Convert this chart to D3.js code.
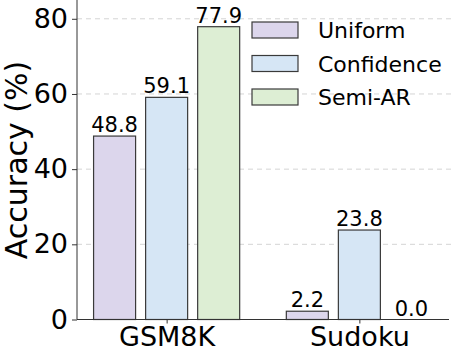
<!DOCTYPE html>
<html>
<head>
<meta charset="utf-8">
<script src="https://cdn.jsdelivr.net/npm/d3@7"></script>
<style>
  body { margin: 0; background: #fff; }
  svg { display: block; font-family: "DejaVu Sans", sans-serif; }
</style>
</head>
<body>
<div id="chart"></div>
<script>
// categories and series
var tasks = ["GSM8K", "Sudoku"];
var methods = ["Uniform", "Confidence", "Semi-AR"];
var uniform = [48.8, 2.2];
var confidence = [59.1, 23.8];
var semiAR = [77.9, 0.0];
var yTicks = [0, 20, 40, 60, 80];

var colors = ["#dcd6ec", "#d6e6f5", "#ddeed4"];
var series = [uniform, confidence, semiAR];

var W = 451, H = 348;
var margin = {top: 0, right: 2, bottom: 28.5, left: 77};

var svg = d3.select("#chart")
  .append("svg")
    .attr("width", W)
    .attr("height", H);

// x is linear in group index, bars offset around each group centre
var x = d3.scaleLinear()
  .domain([-0.465, 1.465])
  .range([margin.left, W - margin.right]);
var y = d3.scaleLinear()
  .domain([0, 85])
  .range([H - margin.bottom, margin.top]);

var step = 0.27, barW = 0.218;

// dashed grid
svg.append("g")
  .selectAll("line")
  .data(yTicks.filter(function(d) { return d > 0; }))
  .enter()
  .append("line")
    .attr("x1", margin.left)
    .attr("x2", W)
    .attr("y1", function(d) { return y(d); })
    .attr("y2", function(d) { return y(d); })
    .attr("stroke", "#d4d4d4")
    .attr("stroke-width", 1)
    .attr("stroke-dasharray", "5,4");

// bars
series.forEach(function(vals, si) {
  var off = (si - 1) * step;
  var g = svg.append("g");
  g.selectAll("rect")
    .data(vals)
    .enter()
    .append("rect")
      .attr("x", function(d, i) { return x(i + off - barW / 2); })
      .attr("width", x(barW) - x(0))
      .attr("y", function(d) { return y(d); })
      .attr("height", function(d) { return y(0) - y(d); })
      .attr("fill", colors[si])
      .attr("stroke", "#3a3a3a")
      .attr("stroke-width", 1.2);
  g.selectAll("text")
    .data(vals)
    .enter()
    .append("text")
      .attr("x", function(d, i) { return x(i + off); })
      .attr("y", function(d) { return y(d) - 4; })
      .attr("text-anchor", "middle")
      .attr("font-size", 21)
      .attr("fill", "#000")
      .text(function(d) { return d.toFixed(1); });
});

// y axis
var yAxis = svg.append("g")
  .attr("transform", "translate(" + margin.left + ",0)")
  .call(d3.axisLeft(y).tickValues(yTicks).tickSize(5).tickPadding(4));
yAxis.select(".domain").attr("stroke", "#333").attr("d", "M0," + y(0) + "V0");
yAxis.selectAll(".tick line").attr("stroke", "#333");
yAxis.selectAll("text").attr("font-size", 27).attr("fill", "#000")
  .attr("font-family", "DejaVu Sans");

// x axis
var xAxis = svg.append("g")
  .attr("transform", "translate(0," + y(0) + ")")
  .call(d3.axisBottom(x).tickValues([0, 1])
    .tickFormat(function(d) { return tasks[d]; })
    .tickSize(4).tickPadding(3));
xAxis.select(".domain").attr("stroke", "#333").attr("d", "M" + margin.left + ",0H" + (W - margin.right));
xAxis.selectAll(".tick line").attr("stroke", "#333");
xAxis.selectAll("text").attr("font-size", 27).attr("fill", "#000")
  .attr("font-family", "DejaVu Sans");

// y label
svg.append("text")
  .attr("transform", "translate(27," + 160 + ")rotate(-90)")
  .attr("text-anchor", "middle")
  .attr("font-size", 30)
  .attr("fill", "#000")
  .text("Accuracy (%)");

// legend
var leg = svg.append("g").attr("transform", "translate(252,22)");
methods.forEach(function(m, i) {
  var row = leg.append("g").attr("transform", "translate(0," + (i * 33.5) + ")");
  row.append("rect")
    .attr("width", 46)
    .attr("height", 16)
    .attr("fill", colors[i])
    .attr("stroke", "#3a3a3a")
    .attr("stroke-width", 1.2);
  row.append("text")
    .attr("x", 66)
    .attr("y", 16)
    .attr("font-size", 22)
    .attr("fill", "#000")
    .text(m);
});
</script>
</body>
</html>
